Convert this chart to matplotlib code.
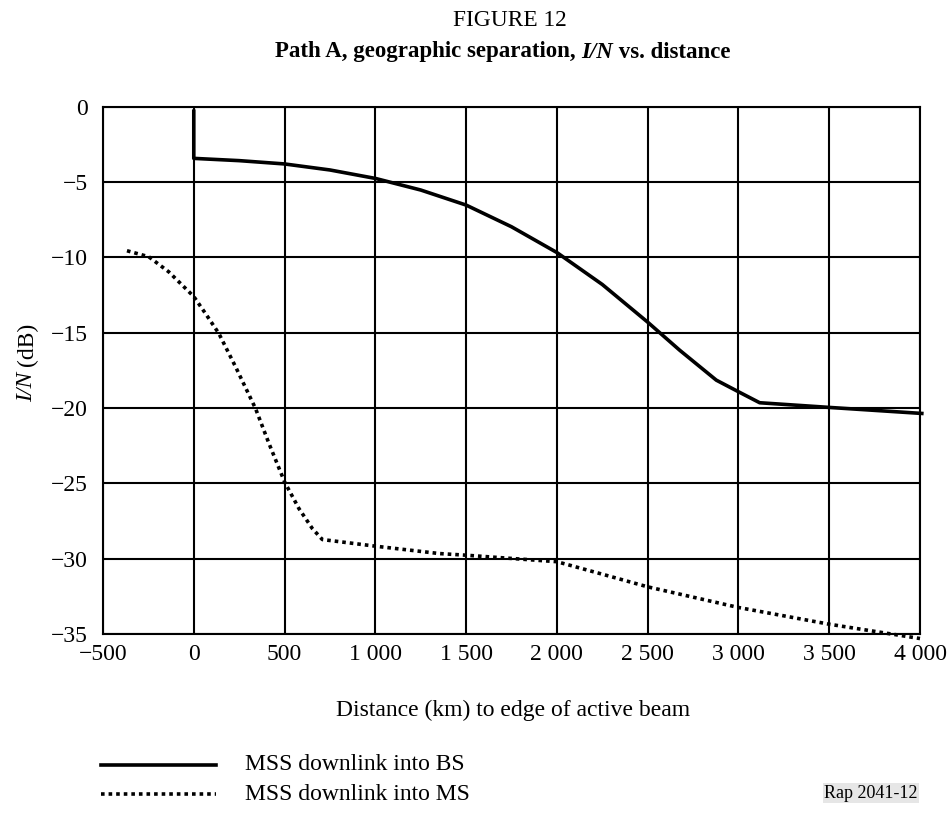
import matplotlib
matplotlib.use("Agg")
import matplotlib.pyplot as plt

# Data
bs_x = [0, 0, 250, 500, 750, 1000, 1250, 1500, 1750, 2000, 2250, 2500, 2676, 2878,
        3000, 3117, 3500, 4010]
bs_y = [-0.3, -3.43, -3.58, -3.8, -4.2, -4.76, -5.53, -6.53, -7.97, -9.68, -11.8, -14.3,
        -16.16, -18.15, -18.92, -19.65, -19.96, -20.36]

ms_x = [-368, -248, -138, 0, 64, 138, 230, 340, 414, 500, 579, 653, 708, 1000, 1352,
        1500, 2000, 2271, 2500, 3000, 3500, 4000]
ms_y = [-9.56, -9.96, -10.96, -12.6, -13.72, -15.05, -17.26, -20.03, -22.35, -24.9,
        -26.67, -28.0, -28.73, -29.17, -29.66, -29.77, -30.2, -31.1, -31.87, -33.24,
        -34.35, -35.3]

x_ticks = [-500, 0, 500, 1000, 1500, 2000, 2500, 3000, 3500, 4000]
x_labels = ["\u2212500", "0", "500", "1 000", "1 500", "2 000", "2 500", "3 000", "3 500", "4 000"]
y_ticks = [0, -5, -10, -15, -20, -25, -30, -35]
y_labels = ["0", "\u22125", "\u221210", "\u221215", "\u221220", "\u221225", "\u221230", "\u221235"]

plt.rcParams['font.family'] = ['Liberation Serif', 'DejaVu Serif']

FS = 17
W, H = 950, 816

fig = plt.figure(figsize=(9.5, 8.16), dpi=100)
ax = fig.add_axes([103/W, 1-634/H, (920-103)/W, (634-106.7)/H])

ax.plot(bs_x, bs_y, color='black', lw=2.6, solid_joinstyle='round', clip_on=False, zorder=3)
ax.plot(ms_x, ms_y, color='black', lw=2.6, linestyle=(0, (1, 1.1)), dash_capstyle='butt',
        clip_on=False, zorder=3)

ax.set_xlim(-500, 4000)
ax.set_ylim(-35, 0)
ax.set_xticks(x_ticks)
ax.set_xticklabels(x_labels)
ax.set_yticks(y_ticks)
ax.set_yticklabels(y_labels)
ax.tick_params(axis='x', length=0, labelsize=FS, pad=7)
ax.tick_params(axis='y', length=0, labelsize=FS, pad=11)
ax.grid(True, color='black', lw=1.5)
for s in ax.spines.values():
    s.set_color('black')
    s.set_linewidth(1.5)

# y label: italic I/N + upright (dB)
fig.text(27/W, 1-366/H, "(dB)", rotation=90, fontsize=FS, ha='center', va='bottom')
fig.text(27/W, 1-366/H, "I/N ", rotation=90, fontsize=FS, style='italic', ha='center', va='top')

fig.text(510/W, 1-20/H, "FIGURE 12", fontsize=16.8, ha='center', va='center')

# title composed of bold + bold italic parts
fig.canvas.draw()
r = fig.canvas.get_renderer()
parts = [("Path A, geographic separation, ", 'normal'), ("I/N", 'italic'), (" vs. distance", 'normal')]
objs, widths = [], []
for txt, st in parts:
    o = fig.text(0, 1-52/H, txt, fontsize=16.5, weight='bold', style=st, ha='left', va='center')
    objs.append(o)
    widths.append(o.get_window_extent(r).width)
x0 = 503 - sum(widths)/2
for o, w in zip(objs, widths):
    o.set_x(x0/W)
    x0 += w

fig.text(513/W, 1-710/H, "Distance (km) to edge of active beam", fontsize=FS,
         ha='center', va='center')

# legend
fig.add_artist(plt.Line2D([101/W, 216/W], [1-765/H, 1-765/H], color='black', lw=2.6))
fig.add_artist(plt.Line2D([101/W, 216/W], [1-794/H, 1-794/H], color='black', lw=2.6,
                          linestyle=(0, (1, 1.1))))
fig.text(245/W, 1-765/H, "MSS downlink into BS", fontsize=FS, ha='left', va='center')
fig.text(245/W, 1-794/H, "MSS downlink into MS", fontsize=FS, ha='left', va='center')
fig.text(918/W, 1-793/H, "Rap 2041-12", fontsize=13, ha='right', va='center',
         bbox=dict(facecolor='#e6e6e6', edgecolor='none', pad=1))

fig.savefig("out.png", dpi=100)
